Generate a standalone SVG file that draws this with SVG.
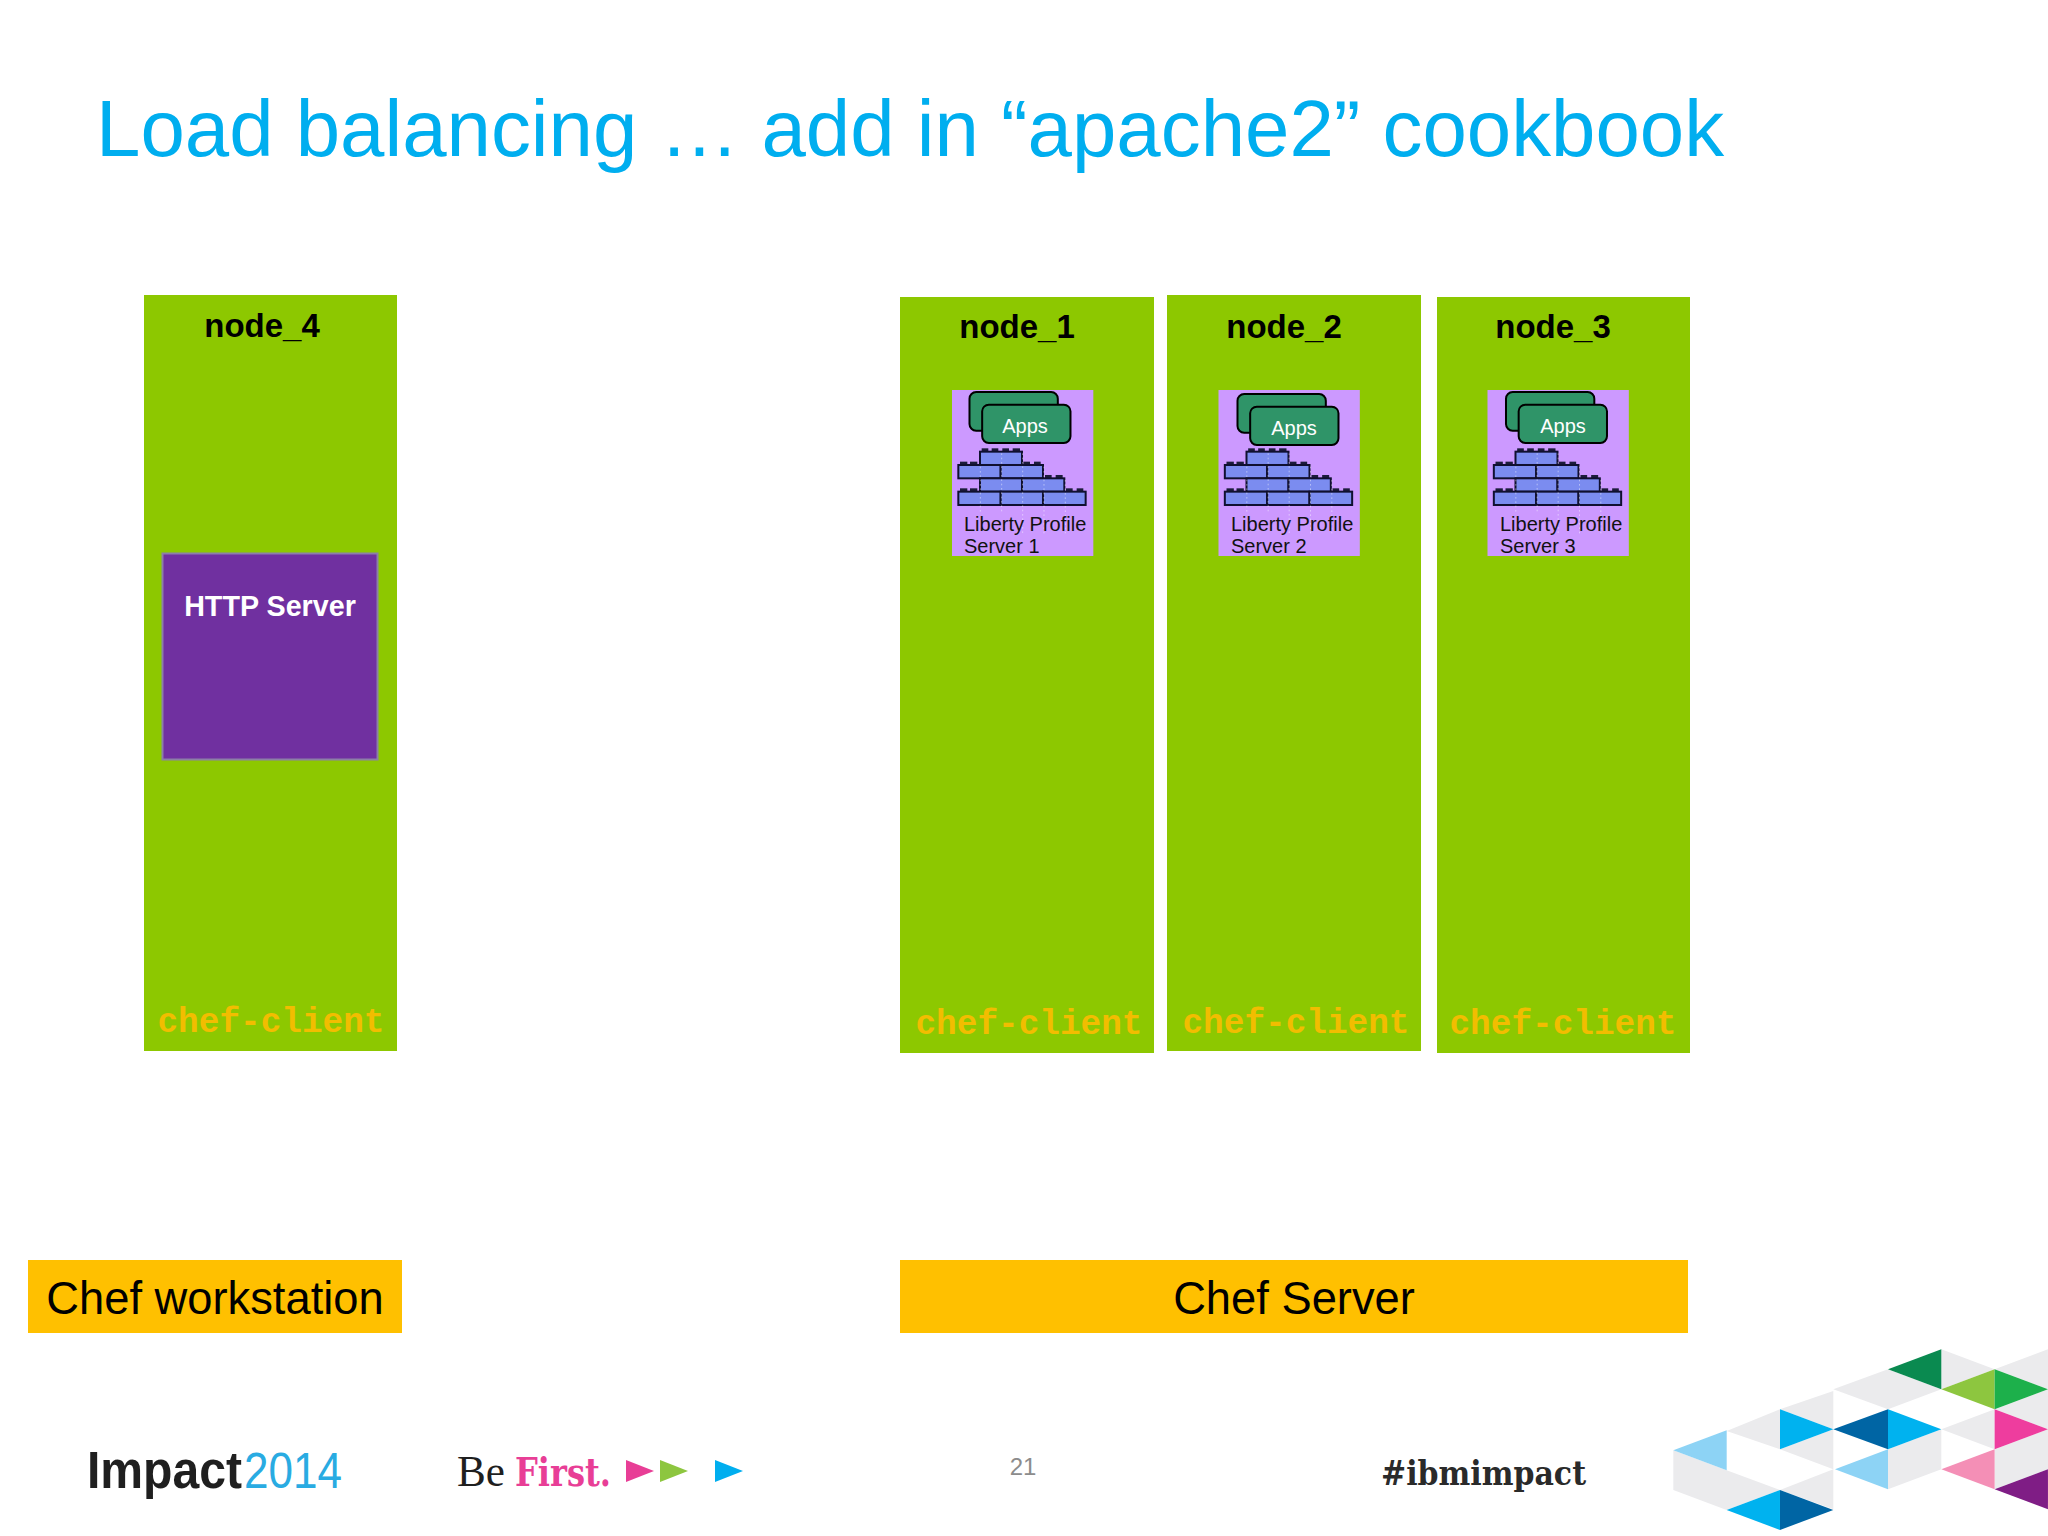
<svg xmlns="http://www.w3.org/2000/svg" width="2048" height="1536" viewBox="0 0 2048 1536">
<style>
.sans{font-family:"Liberation Sans",Arial,sans-serif}
.node{fill:#8dc800}
.nt{font:bold 33px "Liberation Sans",Arial,sans-serif;fill:#000;text-anchor:middle}
.cc{font:bold 34.4px "Liberation Mono","Courier New",monospace;fill:#f2bd00;text-anchor:middle}
.lib{font:20px "Liberation Sans",Arial,sans-serif;fill:#111}
.apps{font:20px "Liberation Sans",Arial,sans-serif;fill:#fff;text-anchor:middle}
.bar{fill:#ffc000}
.bt{font:45.3px "Liberation Sans",Arial,sans-serif;fill:#000;text-anchor:middle}
.g{fill:#ebebed}
.brick{fill:#7b8cf0;stroke:#101030;stroke-width:6}
.stud{fill:#1c1c3c}
.dot{stroke:#fff;stroke-opacity:.45;stroke-width:3;stroke-dasharray:5 8;fill:none}
.app{fill:#2f9468;stroke:#000;stroke-width:6}
</style>
<defs>
<g id="stack">
<rect x="96" y="60" width="424" height="498" fill="#cc99ff"/>
<g class="stud">
<rect x="185" y="235" width="20" height="10"/><rect x="215" y="235" width="20" height="10"/><rect x="247" y="235" width="20" height="10"/><rect x="278" y="235" width="22" height="10"/>
<rect x="120" y="275" width="22" height="10"/><rect x="150" y="275" width="22" height="10"/><rect x="310" y="275" width="20" height="10"/><rect x="342" y="275" width="20" height="10"/>
<rect x="375" y="315" width="20" height="10"/><rect x="407" y="315" width="21" height="10"/>
<rect x="120" y="355" width="22" height="10"/><rect x="150" y="355" width="22" height="10"/><rect x="438" y="355" width="20" height="10"/><rect x="470" y="355" width="20" height="10"/>
</g>
<rect class="brick" x="180" y="245" width="126" height="40"/>
<rect class="brick" x="115" y="285" width="127" height="40"/><rect class="brick" x="242" y="285" width="127" height="40"/>
<rect class="brick" x="180" y="325" width="126" height="40"/><rect class="brick" x="306" y="325" width="127" height="40"/>
<rect class="brick" x="115" y="365" width="127" height="40"/><rect class="brick" x="242" y="365" width="127" height="40"/><rect class="brick" x="369" y="365" width="128" height="40"/>
<path class="dot" d="M181 290V430M245 250V430M308 250V490M372 290V490M436 330V490"/>
</g>
<g id="appcards">
<rect class="app" x="147" y="66" width="265" height="116" rx="20"/>
<rect class="app" x="185" y="104" width="265" height="115" rx="20"/>
</g>
</defs>
<rect width="2048" height="1536" fill="#fff"/>
<text class="sans" x="96" y="156" font-size="79.800" fill="#00aeef">Load balancing … add in “apache2” cookbook</text>

<g id="node_4">
<rect class="node" x="144" y="295" width="253" height="756"/>
<text class="nt" x="262" y="337">node_4</text>
<text class="cc" x="271" y="1032">chef-client</text>
</g>
<g id="http_server">
<rect x="162.500" y="553.500" width="215" height="206" fill="#7030a0" stroke="#8c7fa8" stroke-width="2"/>
<text x="270" y="616" font-family="Liberation Sans, Arial, sans-serif" font-weight="bold" font-size="28.700" fill="#fff" text-anchor="middle">HTTP Server</text>
</g>

<g id="node_1">
<rect class="node" x="900" y="297" width="254" height="756"/>
<text class="nt" x="1017" y="338">node_1</text>
<text class="cc" x="1029" y="1034">chef-client</text>
<use href="#stack" transform="translate(952,390) scale(.3333) translate(-96,-60)"/>
<use href="#appcards" transform="translate(952.500,390) scale(.3333) translate(-96,-60)"/>
<text class="apps" x="1025" y="433">Apps</text>
<text class="lib" x="964" y="531">Liberty Profile</text>
<text class="lib" x="964" y="553">Server 1</text>
</g>
<g id="node_2">
<rect class="node" x="1167" y="295" width="254" height="756"/>
<text class="nt" x="1284" y="338">node_2</text>
<text class="cc" x="1296" y="1033">chef-client</text>
<use href="#stack" transform="translate(1218.500,390) scale(.3333) translate(-96,-60)"/>
<use href="#appcards" transform="translate(1220.500,392) scale(.3333) translate(-96,-60)"/>
<text class="apps" x="1294" y="435">Apps</text>
<text class="lib" x="1231" y="531">Liberty Profile</text>
<text class="lib" x="1231" y="553">Server 2</text>
</g>
<g id="node_3">
<rect class="node" x="1437" y="297" width="253" height="756"/>
<text class="nt" x="1553" y="338">node_3</text>
<text class="cc" x="1563" y="1034">chef-client</text>
<use href="#stack" transform="translate(1487.500,390) scale(.3333) translate(-96,-60)"/>
<use href="#appcards" transform="translate(1489,390) scale(.3333) translate(-96,-60)"/>
<text class="apps" x="1563" y="433">Apps</text>
<text class="lib" x="1500" y="531">Liberty Profile</text>
<text class="lib" x="1500" y="553">Server 3</text>
</g>

<g id="chef_workstation">
<rect class="bar" x="28" y="1260" width="374" height="73"/>
<text class="bt" x="215" y="1314">Chef workstation</text>
</g>
<g id="chef_server">
<rect class="bar" x="900" y="1260" width="788" height="73"/>
<text class="bt" x="1294" y="1314">Chef Server</text>
</g>

<g id="footer">
<text x="87" y="1488" font-family="Liberation Sans, Arial, sans-serif" font-weight="bold" font-size="51" fill="#1f1f1f" textLength="155" lengthAdjust="spacingAndGlyphs">Impact</text>
<text x="244" y="1488" font-family="Liberation Sans, Arial, sans-serif" font-size="50" fill="#29abe2" textLength="98" lengthAdjust="spacingAndGlyphs">2014</text>
<text x="457" y="1486" font-family="Liberation Serif, serif" font-size="44" fill="#1f1f1f" textLength="48" lengthAdjust="spacingAndGlyphs">Be</text>
<text x="515" y="1486" font-family="DejaVu Serif, serif" font-weight="bold" font-size="40" fill="#e83e96" textLength="96" lengthAdjust="spacingAndGlyphs">First.</text>
<polygon points="626,1460 654,1471 626,1482" fill="#e83e96"/>
<polygon points="660,1460 688,1471 660,1482" fill="#8dc63f"/>
<polygon points="715,1460 743,1471 715,1482" fill="#00aeef"/>
<text x="1023" y="1475" font-family="Liberation Sans, Arial, sans-serif" font-size="24" fill="#8c8c8c" text-anchor="middle">21</text>
<text x="1381" y="1485" font-family="DejaVu Serif, serif" font-weight="bold" font-size="34" fill="#2a2a2a" textLength="205" lengthAdjust="spacingAndGlyphs">#ibmimpact</text>
<g transform="translate(1660,1336) scale(.3333)">
<polygon class="g" points="844,40 1004,100 844,160"/>
<polygon class="g" points="1004,100 1164,40 1164,160"/>
<polygon class="g" points="520,160 684,100 844,160 684,220"/>
<polygon class="g" points="360,220 520,165 520,280"/>
<polygon class="g" points="200,285 360,220 360,340"/>
<polygon class="g" points="360,340 520,280 520,400"/>
<polygon class="g" points="40,343 200,403 360,462 200,522 40,462"/>
<polygon class="g" points="360,462 520,400 520,520"/>
<polygon class="g" points="684,340 844,280 844,400 684,460"/>
<polygon class="g" points="844,280 1004,220 1004,340"/>
<polygon class="g" points="1004,340 1164,280 1164,400 1004,460"/>
<polygon class="g" points="1004,220 1164,160 1164,280"/>
<polygon points="684,100 844,40 844,160" fill="#0a8a50"/>
<polygon points="844,160 1004,100 1004,220" fill="#8dc63f"/>
<polygon points="1004,100 1164,160 1004,220" fill="#1db04b"/>
<polygon points="360,220 520,280 360,340" fill="#00b2ef"/>
<polygon points="40,343 200,283 200,403" fill="#8dd3f5"/>
<polygon points="200,522 360,462 360,582" fill="#00b2ef"/>
<polygon points="360,462 520,522 360,582" fill="#0065a4"/>
<polygon points="520,280 684,220 684,340" fill="#0065a4"/>
<polygon points="684,220 844,280 684,340" fill="#00b2ef"/>
<polygon points="525,400 684,340 684,460" fill="#8dd3f5"/>
<polygon points="1004,220 1164,280 1004,340" fill="#ee3d9e"/>
<polygon points="844,400 1004,340 1004,460" fill="#f48fb6"/>
<polygon points="1004,460 1164,400 1164,520" fill="#7f1d85"/>
</g>
</g>
</svg>
